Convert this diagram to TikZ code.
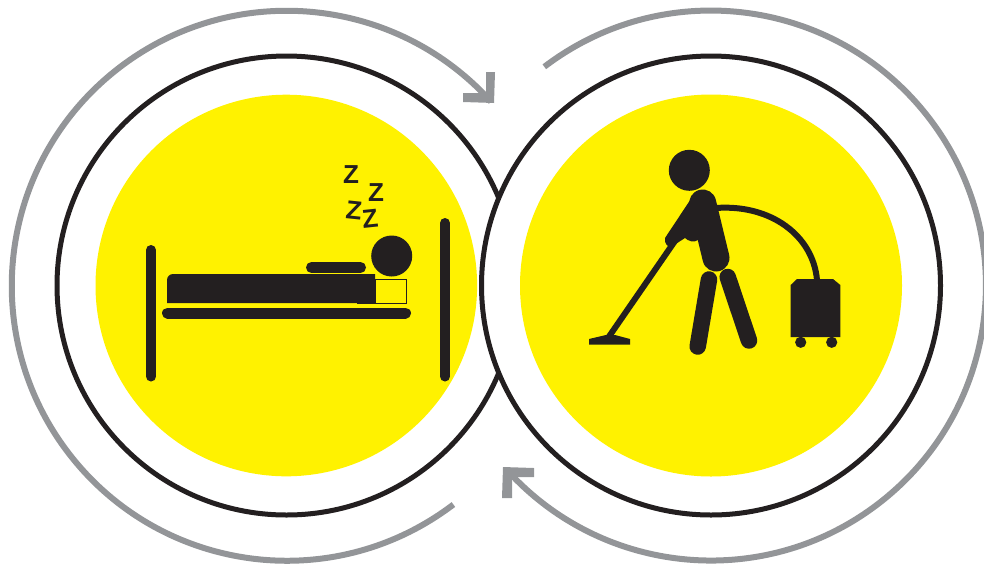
\documentclass[tikz,border=0pt]{standalone}
\usepackage{fontspec}
\setmainfont{Liberation Sans}
\definecolor{ink}{HTML}{231F20}
\definecolor{sun}{HTML}{FFF200}
\definecolor{cycle}{HTML}{939598}
\tikzset{
  ringline/.style={draw=ink,line width=5pt},
  cycleline/.style={draw=cycle,line width=6pt},
  limb/.style={draw=ink,line cap=round},
  zed/.style={text=ink,font=\fontsize{26}{26}\selectfont\bfseries,inner sep=0pt}
}
\begin{document}
\begin{tikzpicture}[x=1pt,y=-1pt]
      \useasboundingbox (0,0) rectangle (984,563);
      \draw[ringline] (286.5,285.5) circle[radius=229.5];
      \fill[sun] (286.3,285.5) circle[radius=190.8];
      \fill[white] (711,285.5) circle[radius=229.5];
      \draw[ringline] (711,285.5) circle[radius=229.5];
      \fill[sun] (711,285.5) circle[radius=191];
      \draw[cycleline] (453.4,504.5) arc[start angle=52.7,end angle=318,radius=275];
      \fill[cycle] (463,93) -- (486,93) -- (486,72) -- (495,72) -- (494,103) -- (463,102) -- cycle;
      \draw[cycleline] (544.3,66.8) arc[start angle=232.7,end angle=498,radius=275];
      \fill[cycle] (503,467) -- (534,468) -- (534,477) -- (512,477) -- (512,498) -- (502,498) -- cycle;
      \draw[limb,line width=10pt] (151,250) -- (151,376.5);
      \draw[limb,line width=10pt] (445,223) -- (445,376.5);
      \draw[limb,line width=11pt] (167.5,313) -- (405.5,313);
      \fill[ink] (167,303) -- (167,280) arc[start angle=180,end angle=270,radius=6] -- (375,274) -- (375,303) -- cycle;
      \draw[ink,fill=sun,line width=0.8pt] (375,279.5) rectangle (406,303);
      \draw[ink,line width=0.8pt] (357,303) -- (375,303);
      \draw[limb,line width=11pt] (311.5,267.5) -- (360.5,267.5);
      \fill[ink] (391.7,256) circle[radius=20.5];
      \node[zed] (zedone) at (351,175) {Z};
      \node[zed] (zedtwo) at (376,193) {Z};
      \node[zed,rotate=-6] (zedthree) at (354,210) {Z};
      \node[zed,rotate=6] (zedfour) at (370,219) {Z};
      \fill[ink] (689.3,170.3) circle[radius=20.5];
      \draw[limb,line width=27pt] (702.7,203) -- (716,258);
      \fill[ink] (689.5,201) -- (665,238) .. controls (664,244) and (668,247) .. (671,247) -- (685,238) .. controls (688,241) and (694,243) .. (698,240) -- (710,210) -- cycle;
      \draw[ink,line width=6pt] (677,238) -- (608,338);
      \fill[ink] (589,339) -- (606,335) -- (615,335) -- (630,339) -- (630,344.5) -- (589,344.5) -- cycle;
      \draw[limb,line width=16.5pt] (709,279.5) -- (697.7,346.5);
      \draw[limb,line width=16.5pt] (727.7,277) -- (749,340.5);
      \draw[ink,line width=6pt] (716,208) .. controls (770,204) and (813,235) .. (817,280);
      \fill[ink] (790.7,285) -- (797,279) -- (833,279) -- (840.3,285) -- (840.3,337) -- (790.7,337) -- cycle;
      \fill[ink] (800.7,342.3) circle[radius=5.6];
      \fill[ink] (831.7,342.3) circle[radius=5.6];
    \end{tikzpicture}
\end{document}
